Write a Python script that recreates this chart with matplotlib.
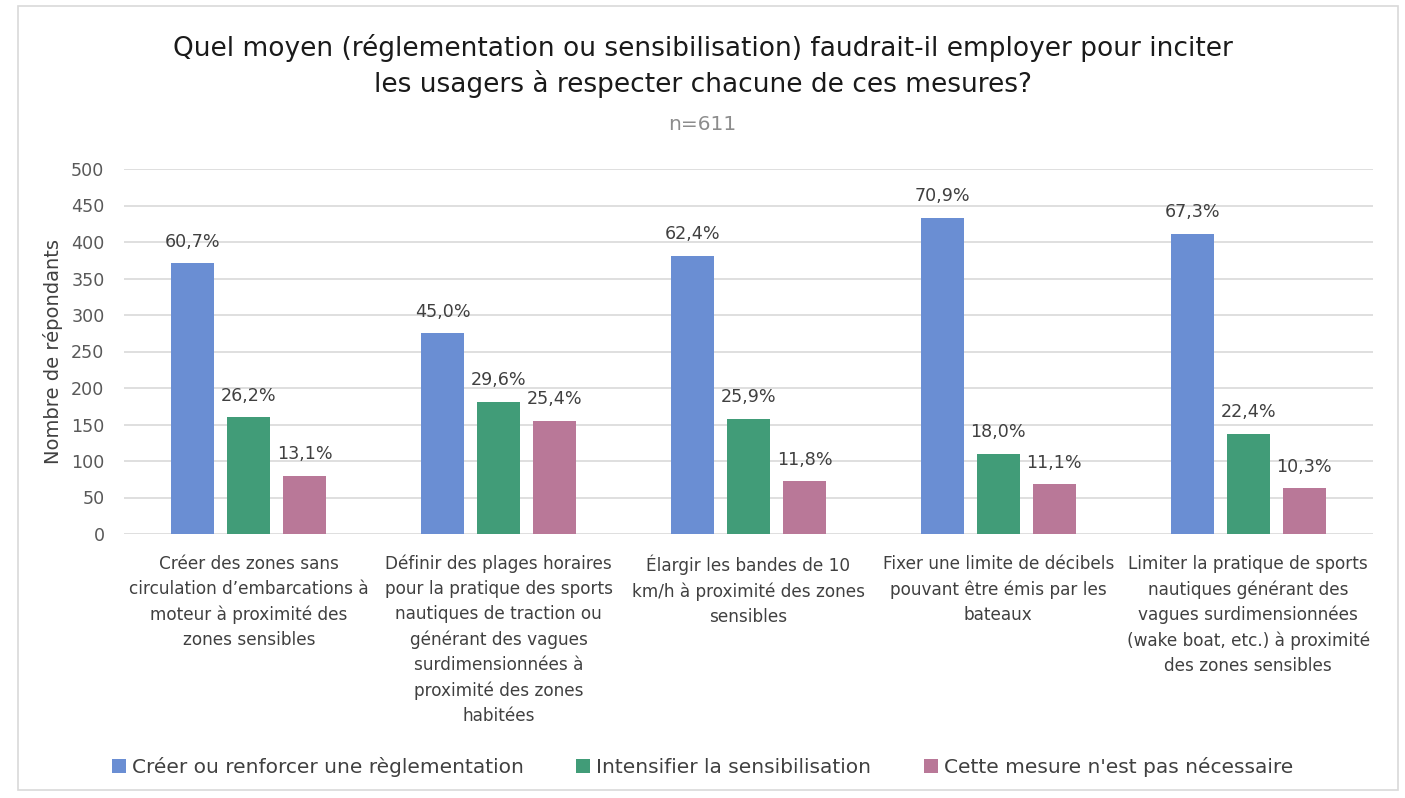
import matplotlib.pyplot as plt
import numpy as np
from matplotlib.patches import Rectangle

categories = [
    "Créer des zones sans\ncirculation d’embarcations à\nmoteur à proximité des\nzones sensibles",
    "Définir des plages horaires\npour la pratique des sports\nnautiques de traction ou\ngénérant des vagues\nsurdimensionnées à\nproximité des zones\nhabitées",
    "Élargir les bandes de 10\nkm/h à proximité des zones\nsensibles",
    "Fixer une limite de décibels\npouvant être émis par les\nbateaux",
    "Limiter la pratique de sports\nnautiques générant des\nvagues surdimensionnées\n(wake boat, etc.) à proximité\ndes zones sensibles",
]
series_names = [
    "Créer ou renforcer une règlementation",
    "Intensifier la sensibilisation",
    "Cette mesure n'est pas nécessaire",
]
reglementation = [371, 275, 381, 433, 411]
sensibilisation = [160, 181, 158, 110, 137]
pas_necessaire = [80, 155, 72, 68, 63]
pct_reglementation = ["60,7%", "45,0%", "62,4%", "70,9%", "67,3%"]
pct_sensibilisation = ["26,2%", "29,6%", "25,9%", "18,0%", "22,4%"]
pct_pas_necessaire = ["13,1%", "25,4%", "11,8%", "11,1%", "10,3%"]

colors = ["#6a8ed3", "#419c78", "#b97898"]

fig = plt.figure(figsize=(14.05, 7.98), dpi=100)
ax = fig.add_axes([124 / 1405, 1 - 534 / 798, (1373 - 124) / 1405, (534 - 169) / 798])

# thin frame around the whole chart
fig.patches.append(Rectangle((18 / 1405, 8 / 798), (1398 - 18) / 1405, (792 - 8) / 798,
                             transform=fig.transFigure, fill=False,
                             edgecolor="#d9d9d9", linewidth=1.2))

x = np.arange(len(categories))
step = 0.224
width = 0.172
all_vals = [reglementation, sensibilisation, pas_necessaire]
all_pct = [pct_reglementation, pct_sensibilisation, pct_pas_necessaire]
for i, (vals, pcts) in enumerate(zip(all_vals, all_pct)):
    bars = ax.bar(x + (i - 1) * step, vals, width, color=colors[i], label=series_names[i], zorder=3)
    ax.bar_label(bars, labels=pcts, padding=9, fontsize=12.6, color="#404040")

ax.set_xlim(-0.5, len(categories) - 0.5)
ax.set_ylim(0, 500)
ax.set_yticks(range(0, 501, 50))
ax.set_xticks(x)
ax.set_xticklabels(categories, fontsize=12.2, color="#404040", linespacing=1.5, va="top")
ax.tick_params(axis="x", length=0, pad=15)
ax.tick_params(axis="y", length=0, labelsize=12.6, labelcolor="#595959", pad=14)
ax.yaxis.grid(True, color="#d9d9d9", linewidth=1.2, zorder=0)
for s in ax.spines.values():
    s.set_visible(False)
ax.set_ylabel("Nombre de répondants", fontsize=14, color="#404040", labelpad=6)

fig.text(0.5, 1 - 66 / 798, "Quel moyen (réglementation ou sensibilisation) faudrait-il employer pour inciter\nles usagers à respecter chacune de ces mesures?",
         ha="center", va="center", fontsize=19, color="#1a1a1a", linespacing=1.35)
fig.text(0.5, 1 - 125 / 798, "n=611", ha="center", va="center", fontsize=14.5, color="#8c8c8c")

fig.legend(loc="center", bbox_to_anchor=(0.5, 1 - 767 / 798), ncol=3, frameon=False,
           fontsize=14.5, handlelength=0.7, handleheight=0.65, handletextpad=0.3,
           columnspacing=2.6, labelcolor="#404040")

plt.savefig("out.png", dpi=100)
